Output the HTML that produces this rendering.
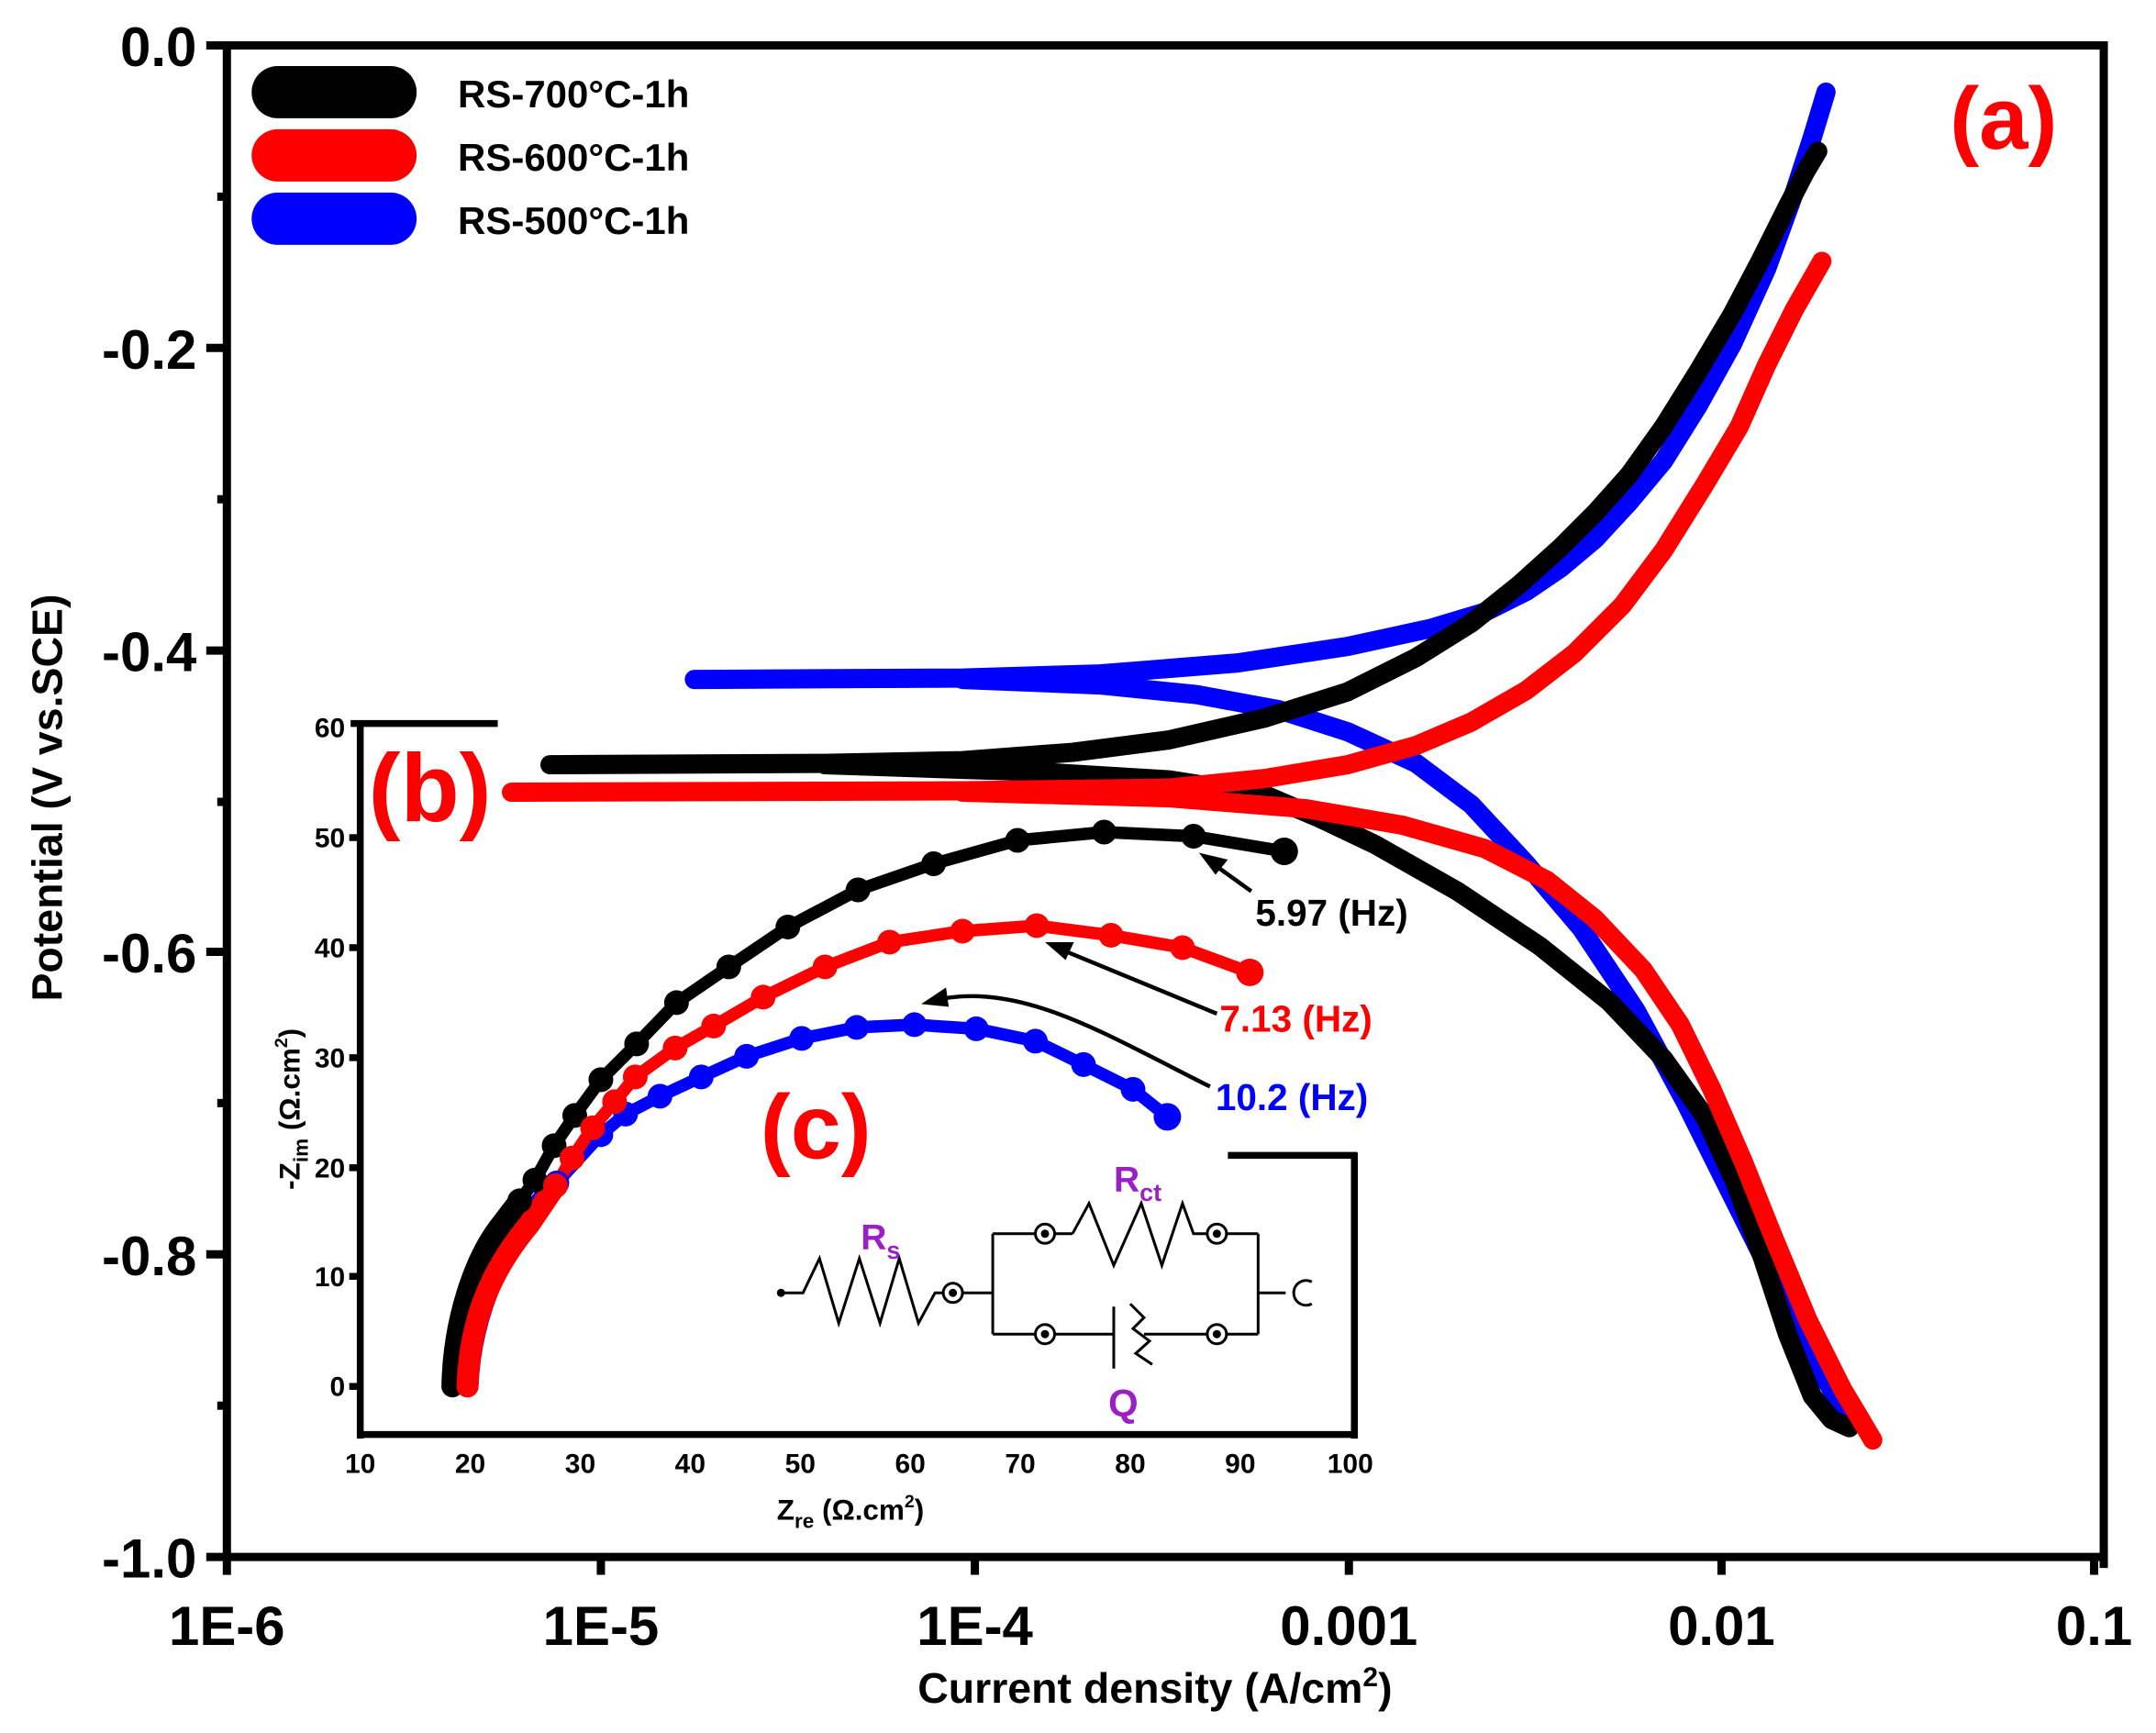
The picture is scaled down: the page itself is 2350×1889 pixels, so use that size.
<!DOCTYPE html>
<html><head><meta charset="utf-8"><style>html,body{margin:0;padding:0;background:#fff}svg{display:block}</style></head><body>
<svg width="2350" height="1889" viewBox="0 0 1568 1260" preserveAspectRatio="none" xmlns="http://www.w3.org/2000/svg" font-family="Liberation Sans, Arial, sans-serif" font-weight="bold">
<rect width="1568" height="1260" fill="#fff"/>
<!-- main frame -->
<g stroke="#000" stroke-width="6" fill="none">
<line x1="150" y1="33" x2="1533" y2="33"/>
<line x1="1530" y1="33" x2="1530" y2="1140"/>
<line x1="165" y1="33" x2="165" y2="1145"/>
<line x1="150" y1="1132" x2="1533" y2="1132"/>
<line x1="150" y1="253" x2="165" y2="253"/>
<line x1="150" y1="473" x2="165" y2="473"/>
<line x1="150" y1="692" x2="165" y2="692"/>
<line x1="150" y1="912" x2="165" y2="912"/>
<line x1="158" y1="143" x2="165" y2="143"/>
<line x1="158" y1="363" x2="165" y2="363"/>
<line x1="158" y1="583" x2="165" y2="583"/>
<line x1="158" y1="802" x2="165" y2="802"/>
<line x1="158" y1="1022" x2="165" y2="1022"/>
<line x1="437" y1="1132" x2="437" y2="1145"/>
<line x1="709" y1="1132" x2="709" y2="1145"/>
<line x1="981" y1="1132" x2="981" y2="1145"/>
<line x1="1252" y1="1132" x2="1252" y2="1145"/>
<line x1="1523" y1="1132" x2="1523" y2="1145"/>
</g>
<g font-size="40" text-anchor="end">
<text x="143" y="48">0.0</text>
<text x="143" y="268">-0.2</text>
<text x="143" y="488">-0.4</text>
<text x="143" y="707">-0.6</text>
<text x="143" y="927">-0.8</text>
<text x="143" y="1147">-1.0</text>
</g>
<g font-size="40" text-anchor="middle">
<text x="165" y="1196">1E-6</text>
<text x="437" y="1196">1E-5</text>
<text x="709" y="1196">1E-4</text>
<text x="981" y="1196">0.001</text>
<text x="1252" y="1196">0.01</text>
<text x="1523" y="1196">0.1</text>
</g>
<text x="840" y="1238" font-size="31" text-anchor="middle">Current density (A/cm<tspan dy="-12" font-size="20">2</tspan><tspan dy="12">)</tspan></text>
<text transform="translate(45,580) rotate(-90)" font-size="31" text-anchor="middle">Potential (V vs.SCE)</text>
<!-- legend -->
<rect x="183" y="48" width="120" height="38" rx="19" fill="#000"/>
<rect x="183" y="94" width="120" height="38" rx="19" fill="#f00"/>
<rect x="183" y="140" width="120" height="38" rx="19" fill="#00f"/>
<g font-size="28"><text x="333" y="78">RS-700°C-1h</text><text x="333" y="124">RS-600°C-1h</text><text x="333" y="170">RS-500°C-1h</text></g>
<text x="1418" y="108" font-size="64" fill="#f00">(a)</text>
<!-- curves -->
<g fill="none" stroke-width="14" stroke-linecap="round" stroke-linejoin="round">
<polyline stroke="#00f" points="505,494 700,493 800,490 900,482 980,470 1040,457 1080,445 1110,430 1135,413 1160,392 1185,365 1210,335 1235,295 1260,250 1285,195 1305,140 1318,100 1328,67"/>
<polyline stroke="#00f" points="700,494 800,498 870,505 930,516 980,532 1030,555 1070,585 1110,628 1150,675 1190,735 1225,800 1260,870 1290,930 1320,990 1345,1032"/>
<polyline stroke="#000" points="400,556 600,555 700,553 780,547 850,538 920,522 980,503 1030,478 1070,453 1105,425 1135,398 1160,373 1185,345 1210,310 1235,270 1260,228 1280,190 1300,150 1313,125 1322,110"/>
<polyline stroke="#000" points="600,556 750,561 850,567 920,578 960,595 1000,614 1060,648 1120,688 1170,728 1210,770 1240,812 1262,860 1282,915 1300,970 1318,1015 1332,1032 1345,1038"/>
<polyline stroke="#f00" points="372,576 700,575 850,573 920,566 980,556 1030,542 1070,525 1110,502 1145,475 1180,440 1210,400 1240,352 1265,310 1285,265 1305,225 1325,190"/>
<polyline stroke="#f00" points="700,576 850,580 950,588 1020,600 1080,617 1125,640 1160,668 1195,705 1222,745 1245,792 1268,845 1290,900 1315,960 1340,1010 1352,1030 1362,1047"/>
</g>
<!-- inset frame -->
<g stroke="#000" stroke-width="5" fill="none">
<line x1="255" y1="526" x2="362" y2="526"/>
<line x1="262" y1="524" x2="262" y2="1046"/>
<line x1="260" y1="1043" x2="987" y2="1043"/>
<line x1="985" y1="838" x2="985" y2="1046"/>
<line x1="893" y1="840" x2="987" y2="840"/>
<line x1="254" y1="609" x2="262" y2="609"/>
<line x1="254" y1="689" x2="262" y2="689"/>
<line x1="254" y1="769" x2="262" y2="769"/>
<line x1="254" y1="849" x2="262" y2="849"/>
<line x1="254" y1="928" x2="262" y2="928"/>
<line x1="254" y1="1008" x2="262" y2="1008"/>
</g>
<g font-size="20" text-anchor="end">
<text x="251" y="536">60</text><text x="251" y="616">50</text><text x="251" y="696">40</text><text x="251" y="776">30</text><text x="251" y="856">20</text><text x="251" y="935">10</text><text x="251" y="1015">0</text>
</g>
<g font-size="20" text-anchor="middle">
<text x="262" y="1071">10</text><text x="342" y="1071">20</text><text x="422" y="1071">30</text><text x="502" y="1071">40</text><text x="582" y="1071">50</text><text x="662" y="1071">60</text><text x="742" y="1071">70</text><text x="822" y="1071">80</text><text x="902" y="1071">90</text><text x="982" y="1071">100</text>
</g>
<text x="565" y="1105" font-size="21">Z<tspan font-size="15" dy="6">re</tspan><tspan dy="-6"> (Ω.cm</tspan><tspan font-size="13" dy="-9">2</tspan><tspan dy="9">)</tspan></text>
<text transform="translate(218,865) rotate(-90)" font-size="21">-Z<tspan font-size="15" dy="6">im</tspan><tspan dy="-6"> (Ω.cm</tspan><tspan font-size="13" dy="-9">2</tspan><tspan dy="9">)</tspan></text>
<text x="268" y="597" font-size="70" fill="#f00">(b)</text>
<text x="553" y="842" font-size="66" fill="#f00">(c)</text>
<!-- Nyquist -->
<g fill="none" stroke-linecap="round" stroke-linejoin="round">
<path stroke="#00f" stroke-width="16" d="M340,1008 C342,960 360,920 380,890 L405,860"/>
<path stroke="#00f" stroke-width="9" d="M405,860 L437,825 455,810 480,797 510,783 543,768 583,755 623,747 665,745 710,748 753,757 788,774 824,792 849,812"/>
<path stroke="#000" stroke-width="16" d="M329,1008 C330,960 345,915 365,890 L378,873"/>
<path stroke="#000" stroke-width="9" d="M378,873 L389,858 403,833 418,811 437,785 463,759 492,729 530,703 573,674 624,647 679,628 740,611 803,605 868,608 934,619"/>
<path stroke="#f00" stroke-width="16" d="M340,1008 C342,955 360,920 385,890 L404,862"/>
<path stroke="#f00" stroke-width="9" d="M404,862 L416,842 431,820 447,801 462,783 491,762 519,746 555,725 600,703 647,685 700,677 754,673 808,680 860,689 909,707"/>
</g>
<g fill="#00f"><circle cx="405" cy="860" r="9"/><circle cx="437" cy="825" r="9"/><circle cx="455" cy="810" r="9"/><circle cx="480" cy="797" r="9"/><circle cx="510" cy="783" r="9"/><circle cx="543" cy="768" r="9"/><circle cx="583" cy="755" r="9"/><circle cx="623" cy="747" r="9"/><circle cx="665" cy="745" r="9"/><circle cx="710" cy="748" r="9"/><circle cx="753" cy="757" r="9"/><circle cx="788" cy="774" r="9"/><circle cx="824" cy="792" r="9"/><circle cx="849" cy="812" r="10"/></g>
<g fill="#000"><circle cx="378" cy="873" r="9"/><circle cx="389" cy="858" r="9"/><circle cx="403" cy="833" r="9"/><circle cx="418" cy="811" r="9"/><circle cx="437" cy="785" r="9"/><circle cx="463" cy="759" r="9"/><circle cx="492" cy="729" r="9"/><circle cx="530" cy="703" r="9"/><circle cx="573" cy="674" r="9"/><circle cx="624" cy="647" r="9"/><circle cx="679" cy="628" r="9"/><circle cx="740" cy="611" r="9"/><circle cx="803" cy="605" r="9"/><circle cx="868" cy="608" r="9"/><circle cx="934" cy="619" r="10"/></g>
<g fill="#f00"><circle cx="404" cy="862" r="9"/><circle cx="416" cy="842" r="9"/><circle cx="431" cy="820" r="9"/><circle cx="447" cy="801" r="9"/><circle cx="462" cy="783" r="9"/><circle cx="491" cy="762" r="9"/><circle cx="519" cy="746" r="9"/><circle cx="555" cy="725" r="9"/><circle cx="600" cy="703" r="9"/><circle cx="647" cy="685" r="9"/><circle cx="700" cy="677" r="9"/><circle cx="754" cy="673" r="9"/><circle cx="808" cy="680" r="9"/><circle cx="860" cy="689" r="9"/><circle cx="909" cy="707" r="10"/></g>
<!-- annotations -->
<g stroke="#000" stroke-width="3" fill="none">
<line x1="910" y1="648" x2="878" y2="625"/>
<line x1="885" y1="737" x2="766" y2="688"/>
<path d="M880,790 C800,750 740,712 676,728"/>
</g>
<g fill="#000"><polygon points="872,620 893,625 884,636"/><polygon points="760,685 781,685 775,698"/><polygon points="670,730 688,718 690,732"/></g>
<text x="913" y="673" font-size="27">5.97 (Hz)</text>
<text x="887" y="750" font-size="27" fill="#f00">7.13 (Hz)</text>
<text x="884" y="807" font-size="27" fill="#00f">10.2 (Hz)</text>
<!-- circuit -->
<g stroke="#000" stroke-width="2" fill="none">
<polyline points="568,940 584,940 596,915 610,962 625,915 640,962 654,915 668,962 680,940 686,940"/>
<line x1="700" y1="940" x2="722" y2="940"/>
<polyline points="722,897 722,970"/>
<line x1="722" y1="897" x2="753" y2="897"/><line x1="767" y1="897" x2="780" y2="897"/>
<polyline points="780,897 792,875 810,920 830,875 845,920 860,875 868,897 878,897"/>
<line x1="892" y1="897" x2="915" y2="897"/>
<line x1="722" y1="970" x2="753" y2="970"/><line x1="767" y1="970" x2="810" y2="970"/>
<line x1="810" y1="950" x2="810" y2="995"/>
<polyline points="822,948 832,958 824,966 836,975 826,984 838,992"/>
<line x1="832" y1="970" x2="878" y2="970"/><line x1="892" y1="970" x2="915" y2="970"/>
<line x1="915" y1="897" x2="915" y2="970"/>
<line x1="915" y1="940" x2="935" y2="940"/>
<path d="M954,932 A9,9 0 1,0 954,948"/>
<circle cx="693" cy="940" r="7"/><circle cx="760" cy="897" r="7"/><circle cx="885" cy="897" r="7"/><circle cx="760" cy="970" r="7"/><circle cx="885" cy="970" r="7"/>
</g>
<g fill="#000"><circle cx="568" cy="940" r="3"/><circle cx="693" cy="940" r="3"/><circle cx="760" cy="897" r="3"/><circle cx="885" cy="897" r="3"/><circle cx="760" cy="970" r="3"/><circle cx="885" cy="970" r="3"/></g>
<g fill="#9a1fc4"><text x="626" y="908" font-size="26">R<tspan font-size="18" dy="7">s</tspan></text><text x="810" y="866" font-size="26">R<tspan font-size="18" dy="7">ct</tspan></text><text x="806" y="1030" font-size="28">Q</text></g>
</svg>
</body></html>
